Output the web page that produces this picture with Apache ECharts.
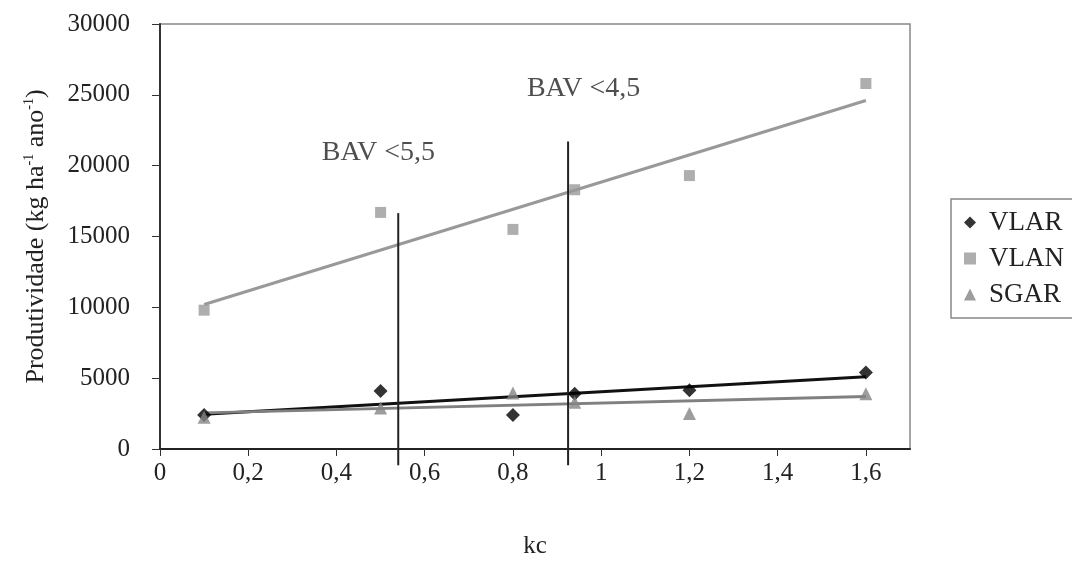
<!DOCTYPE html>
<html>
<head>
<meta charset="utf-8">
<script src="https://cdn.jsdelivr.net/npm/echarts@6/dist/echarts.min.js"></script>
<style>html,body{margin:0;padding:0;background:#fff}#c{width:1072px;height:567px}</style>
</head>
<body>
<div id="c"></div>
<script>
// Data
const kcValues = [0.1, 0.5, 0.8, 0.94, 1.2, 1.6];
const vlar = [2400, 4100, 2400, 3900, 4150, 5400];
const vlan = [9800, 16700, 15500, 18300, 19300, 25800];
const sgar = [2250, 2900, 3950, 3300, 2500, 3900];
// trend line endpoints (as drawn)
const trendX = [0.1, 1.6];
const vlarTrend = [2450, 5100];
const vlanTrend = [10200, 24600];
const sgarTrend = [2550, 3700];
// vertical BAV lines: x, top value
const bavX = [0.54, 0.925];
const bavTop = [16650, 21700];
const bavBottom = -1150;
const bavLabels = ['BAV <5,5', 'BAV <4,5'];
const bavLabelX = [0.495, 0.96];
const bavLabelY = [20950, 25450];
const yTicks = { min: 0, max: 30000, interval: 5000 };
const xTicks = { min: 0, max: 1.7, interval: 0.2 };

const FONT = '"Liberation Serif", "Times New Roman", serif';
const pairs = (xs, ys) => xs.map((x, i) => [x, ys[i]]);

const series = [
  { name: 'VLAR', type: 'scatter', data: pairs(kcValues, vlar), symbol: 'diamond', symbolSize: 14,
    itemStyle: { color: '#000' }, z: 5 },
  { name: 'VLAN', type: 'scatter', data: pairs(kcValues, vlan), symbol: 'rect', symbolSize: 11,
    itemStyle: { color: '#9a9a9a' }, z: 5 },
  { name: 'SGAR', type: 'scatter', data: pairs(kcValues, sgar), symbol: 'triangle', symbolSize: 13,
    itemStyle: { color: '#858585' }, z: 5 },
  { name: 'VLAR trend', type: 'line', data: pairs(trendX, vlarTrend), symbol: 'none',
    lineStyle: { color: '#111', width: 3 }, z: 3 },
  { name: 'VLAN trend', type: 'line', data: pairs(trendX, vlanTrend), symbol: 'none',
    lineStyle: { color: '#999', width: 3 }, z: 3 },
  { name: 'SGAR trend', type: 'line', data: pairs(trendX, sgarTrend), symbol: 'none',
    lineStyle: { color: '#808080', width: 3 }, z: 3 }
];
bavX.forEach((x, i) => {
  series.push({ name: 'bav' + i, type: 'line', clip: false, symbol: 'none',
    data: [[x, bavBottom], [x, bavTop[i]]], lineStyle: { color: '#222', width: 2 }, z: 4 });
  series.push({ name: 'bavlabel' + i, type: 'scatter', symbolSize: 0,
    data: [[bavLabelX[i], bavLabelY[i]]],
    label: { show: true, position: 'inside', formatter: bavLabels[i], color: '#222',
      fontFamily: FONT, fontSize: 28 }, z: 6 });
});

const chart = echarts.init(document.getElementById('c'));
chart.setOption({
  animation: false,
  backgroundColor: '#fff',
  textStyle: { fontFamily: FONT },
  grid: { left: 160, right: 162, top: 24, bottom: 118, show: true, borderColor: '#888', borderWidth: 1.5 },
  legend: {
    data: [{ name: 'VLAR' }, { name: 'VLAN' }, { name: 'SGAR' }],
    orient: 'vertical', left: 951, top: 199,
    itemWidth: 12, itemHeight: 12, itemGap: 9,
    padding: [10, 40, 10, 13],
    borderColor: '#888', borderWidth: 1.5,
    textStyle: { fontFamily: FONT, fontSize: 27, color: '#222', padding: [0, 0, 0, 8] }
  },
  xAxis: {
    type: 'value', min: xTicks.min, max: xTicks.max, interval: xTicks.interval,
    name: 'kc', nameLocation: 'middle', nameGap: 85,
    nameTextStyle: { fontFamily: FONT, fontSize: 25, color: '#222' },
    splitLine: { show: false },
    axisLine: { lineStyle: { color: '#222', width: 2 } },
    axisTick: { show: true, length: 7, lineStyle: { color: '#333' } },
    axisLabel: { margin: 12, showMaxLabel: false, fontFamily: FONT, fontSize: 25, color: '#222',
      formatter: v => String(Math.round(v * 10) / 10).replace('.', ',') }
  },
  yAxis: {
    type: 'value', min: yTicks.min, max: yTicks.max, interval: yTicks.interval,
    name: '{n|Produtividade (kg ha}{s|-1}{n| ano}{s|-1}{n|)}', nameLocation: 'middle', nameGap: 110,
    nameTextStyle: { rich: {
      n: { fontFamily: FONT, fontSize: 26, color: '#222' },
      s: { fontFamily: FONT, fontSize: 14, color: '#222', padding: [0, 0, 14, 0] }
    } },
    splitLine: { show: false },
    axisLine: { lineStyle: { color: '#333', width: 2 } },
    axisTick: { show: true, length: 8, lineStyle: { color: '#333' } },
    axisLabel: { margin: 30, fontFamily: FONT, fontSize: 25, color: '#222',
      formatter: v => String(v) }
  },
  series: series
});
</script>
</body>
</html>
